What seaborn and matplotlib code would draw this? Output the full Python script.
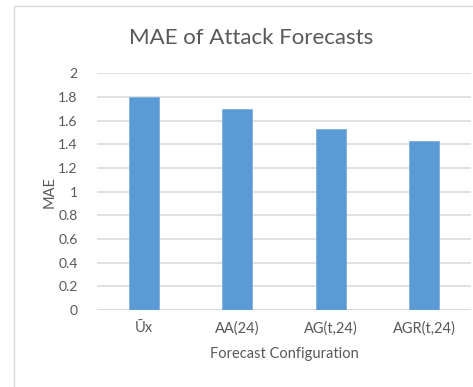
import matplotlib
matplotlib.use("Agg")
import matplotlib.pyplot as plt
import seaborn as sns
import pandas as pd
from matplotlib.patches import Rectangle

# Forecast configurations and their mean absolute error
configs = ["Ūx", "AA(24)", "AG(t,24)", "AGR(t,24)"]
mae = [1.80, 1.70, 1.53, 1.43]
y_ticks = [0, 0.2, 0.4, 0.6, 0.8, 1, 1.2, 1.4, 1.6, 1.8, 2]
y_tick_labels = ["0", "0.2", "0.4", "0.6", "0.8", "1", "1.2", "1.4", "1.6", "1.8", "2"]

sns.set_theme(style="white")
plt.rcParams["font.family"] = ["Lato", "DejaVu Sans"]

text_gray = "#595959"
grid_gray = "#d9d9d9"
bar_blue = "#5b9bd5"

fig = plt.figure(figsize=(4.73, 3.87), dpi=100)
ax = fig.add_axes([0.205, 0.199, 0.791, 0.612])

df = pd.DataFrame({"config": configs, "mae": mae})
sns.barplot(data=df, x="config", y="mae", color=bar_blue, saturation=1,
            width=0.32, edgecolor="#7fb0de", linewidth=0.6, ax=ax, zorder=3)

ax.set_ylim(0, 2)
ax.set_yticks(y_ticks)
ax.set_yticklabels(y_tick_labels)
ax.set_xlim(-0.5, len(configs) - 0.5)
ax.yaxis.grid(True, color=grid_gray, linewidth=1.1, zorder=0)
ax.set_axisbelow(True)
for side in ["left", "right", "top", "bottom"]:
    ax.spines[side].set_visible(False)
ax.axhline(0, color=grid_gray, linewidth=1.1, zorder=1)

ax.tick_params(axis="y", length=0, pad=14, labelsize=10, labelcolor=text_gray)
ax.tick_params(axis="x", length=0, pad=8, labelsize=10.5, labelcolor=text_gray)

ax.set_xlabel("Forecast Configuration", fontsize=10.5, color=text_gray, labelpad=8)
ax.set_ylabel("MAE", fontsize=10.5, color=text_gray, labelpad=1)

fig.text(0.53, 0.902, "MAE of Attack Forecasts", ha="center", va="center",
         fontsize=16, color=text_gray)

# Outer chart frame
fig.patches.append(Rectangle((14 / 473, -0.1), 1.2, 1.1 - 6 / 387,
                             transform=fig.transFigure, fill=False,
                             edgecolor=grid_gray, linewidth=1.0, clip_on=False))

fig.savefig("out.png", dpi=100)
